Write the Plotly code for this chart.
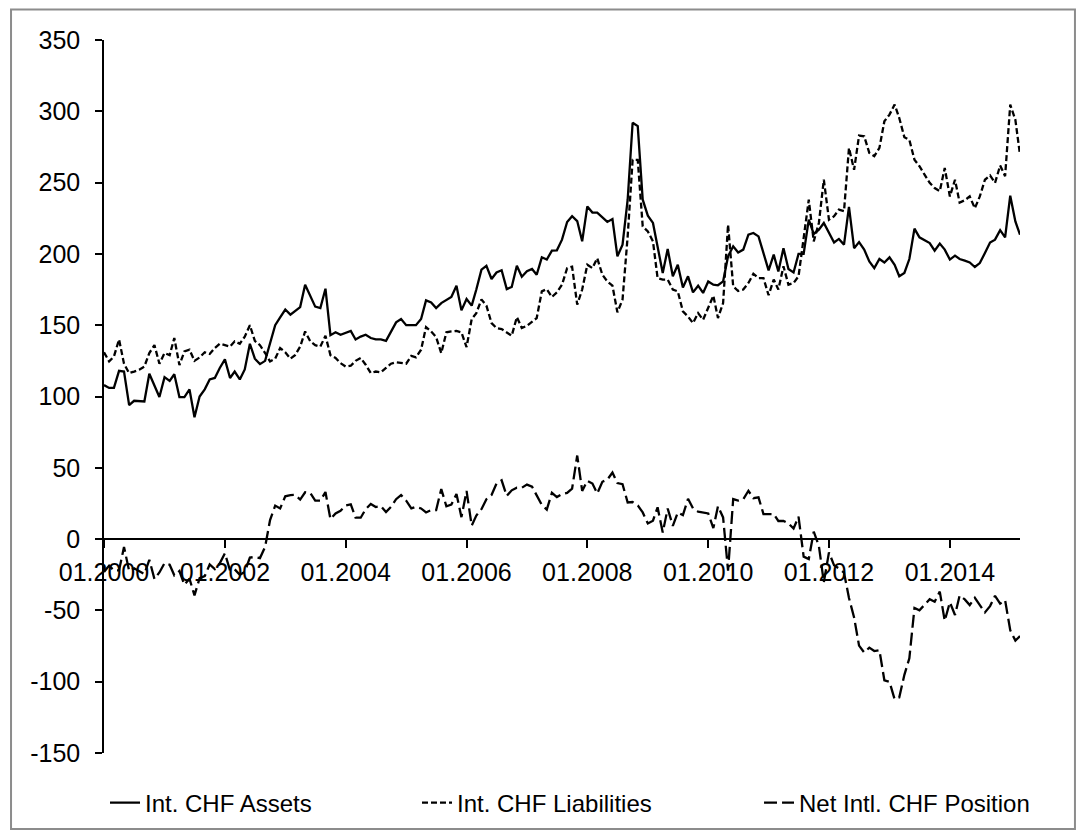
import pandas as pd
import plotly.graph_objects as go

start_month = "2000-01-01"
n_months = 183

assets = [
    108, 106, 106, 118, 117.5, 94, 97, 96.5, 96.5, 116, 108, 99.6,
    113.6, 111, 115.6, 99.6, 99.6, 105, 85.5, 100, 105, 112, 113, 120,
    126, 113, 117.5, 112, 119, 137, 126.5, 122.7, 125, 138, 150, 155.5,
    161, 157.4, 160, 162.7, 178.4, 171, 163, 162, 175.6, 143, 145, 143.3,
    144.5, 146, 140, 142, 143.3, 141, 140, 140, 139, 145.6, 152, 154.3,
    150, 150, 150, 154.3, 167.4, 166, 162, 165.5, 168, 169.8, 177.7, 160.4,
    168.4, 163.7, 175, 189, 191.7, 182.4, 187, 188.5, 175.3, 176.8, 191.7, 184,
    187.8, 189.4, 185.4, 197.6, 196, 202.3, 202.5, 210, 222.4, 226.4, 223, 208.8,
    233.3, 229, 229, 225.6, 222.4, 224.4, 198.3, 206.5, 238, 292, 289.6, 238,
    226.8, 221.7, 205.3, 186.6, 203.4, 184.3, 192.4, 176.5, 184.3, 173, 177.7, 172.6,
    180.7, 178.4, 178, 180.7, 198.3, 205.3, 201, 203, 213.5, 214.7, 212.3, 200.6,
    188.5, 199.5, 187.7, 204, 189.4, 187, 200, 200, 224, 214, 217, 221.7,
    214.7, 208, 210.5, 206.5, 233, 204, 208.3, 203, 194.7, 190, 196.4, 194,
    197.6, 192.4, 184.3, 186.6, 196.4, 217.7, 211.6, 209.5, 207.6, 202.3, 207.2, 203,
    196, 198.8, 196.4, 195.3, 194, 190.8, 193.6, 200.6, 208, 210, 216.7, 211.6,
    240.8, 222.8, 213.5,
]

liabilities = [
    131, 124.6, 128, 140, 123, 116.4, 117.5, 118.8, 121, 130.5, 136, 123,
    130.5, 129, 141, 122, 131.6, 132.8, 125, 127.4, 131, 129.8, 134, 137,
    136, 135, 138.7, 137, 142, 150, 139, 136, 130.5, 124.6, 126.5, 134,
    131, 126.5, 129, 135, 145.6, 138.7, 136, 135, 142.6, 129, 127, 123.4,
    121, 121.6, 125, 127, 122.3, 116.4, 117.5, 116.9, 120, 123, 124, 123.4,
    123, 128.5, 127.4, 132.8, 148.7, 145.6, 141.7, 130.4, 145, 145.6, 146, 145,
    134.6, 154.3, 158.5, 168, 163.7, 151.5, 148, 147.3, 145, 142.6, 155.7, 148,
    149.6, 152.6, 155, 173.7, 175.3, 169.8, 173, 178.4, 190, 191, 164.4, 175,
    192.4, 190, 197, 185.4, 180.7, 177.7, 159, 168, 212.3, 266, 266, 219.3,
    215.8, 208.8, 183, 182, 182, 175, 173.7, 159.7, 156, 151.5, 158.5, 153.8,
    162.7, 170.7, 155, 165.5, 220.5, 177.2, 174, 175, 179.6, 186, 183, 183,
    171, 182, 175, 191.3, 178.4, 179.6, 184.3, 212.3, 238, 208.8, 221.7, 252,
    224, 226.4, 231, 230, 274.3, 259, 283, 282.5, 270.8, 268.5, 274.3, 293,
    297.7, 304.7, 295.3, 281.8, 280, 266, 261.5, 255.6, 249.8, 246.2, 244, 260.3,
    240.3, 252, 236, 237.6, 240.3, 232, 240.3, 252, 255, 249.8, 262, 254.5,
    304.7, 294, 269.5,
]

net_position = [
    -23, -18.6, -22, -22, -5.5, -22.4, -20.5, -22.3, -24.5, -14.5, -28, -23.4,
    -16.9, -18, -25.4, -22.4, -32, -27.8, -39.5, -27.4, -26, -17.8, -21, -17,
    -10, -22, -21.2, -25, -23, -13, -12.5, -13.3, -5.5, 13.4, 23.5, 21.5,
    30, 30.9, 31, 27.7, 32.8, 32.3, 27, 27, 33, 14, 18, 19.9,
    23.5, 24.4, 15, 15, 21, 24.6, 22.5, 23.1, 19, 22.6, 28, 30.9,
    27, 21.5, 22.6, 21.5, 18.7, 20.4, 20.3, 35.1, 23, 24.2, 31.7, 15.4,
    33.8, 9.4, 16.5, 21, 28, 30.9, 39, 41.2, 30.3, 34.2, 36, 36,
    38.2, 36.8, 30.4, 23.9, 20.7, 32.5, 29.5, 31.6, 32.4, 35.4, 58.6, 33.8,
    40.9, 39, 32, 40.2, 41.7, 46.7, 39.3, 38.5, 25.7, 26, 23.6, 18.7,
    11, 12.9, 22.3, 4.6, 21.4, 9.3, 18.7, 16.8, 28.3, 21.5, 19.2, 18.8,
    18, 7.7, 23, 15.2, -22.2, 28.1, 27, 28, 33.9, 28.7, 29.3, 17.6,
    17.5, 17.5, 12.7, 12.7, 11, 7.4, 15.7, -12.3, -14, 5.2, -4.7, -30.3,
    -9.3, -18.4, -20.5, -23.5, -41.3, -55, -74.7, -79.5, -76.1, -78.5, -77.9, -99,
    -100.1, -112.3, -111, -95.2, -83.6, -48.3, -49.9, -46.1, -42.2, -43.9, -36.8, -57.3,
    -44.3, -53.2, -39.6, -42.3, -46.3, -41.2, -46.7, -51.4, -47, -39.8, -45.3, -42.9,
    -63.9, -71.2, -68,
]

tick_dates = ["2000-01-01", "2002-01-01", "2004-01-01", "2006-01-01",
              "2008-01-01", "2010-01-01", "2012-01-01", "2014-01-01"]
tick_labels = ["01.2000", "01.2002", "01.2004", "01.2006",
               "01.2008", "01.2010", "01.2012", "01.2014"]
y_ticks = [-150, -100, -50, 0, 50, 100, 150, 200, 250, 300, 350]
y_tick_labels = ["-150", "-100", "-50", "0", "50", "100", "150", "200", "250", "300", "350"]

series_names = ["Int. CHF Assets", "Int. CHF Liabilities", "Net Intl. CHF Position"]

dates = pd.date_range(start_month, periods=n_months, freq="MS")

FONT = "Liberation Sans, Arial, sans-serif"

fig = go.Figure()
fig.add_trace(go.Scatter(x=dates, y=assets, mode="lines", name=series_names[0],
                         legend="legend",
                         line=dict(color="black", width=2.3, dash="solid")))
fig.add_trace(go.Scatter(x=dates, y=liabilities, mode="lines", name=series_names[1],
                         legend="legend2",
                         line=dict(color="black", width=2.3, dash="6px,3px")))
fig.add_trace(go.Scatter(x=dates, y=net_position, mode="lines", name=series_names[2],
                         legend="legend3",
                         line=dict(color="black", width=2.3, dash="13px,5px")))

ymin, ymax = -150, 350
zero_pos = (0 - ymin) / (ymax - ymin)

leg_common = dict(orientation="h", xanchor="left", yanchor="middle", y=-0.0702,
                  font=dict(family=FONT, size=24, color="black"),
                  bgcolor="rgba(0,0,0,0)")

fig.update_layout(
    width=1085, height=839,
    margin=dict(l=104, r=65, t=40, b=86, autoexpand=False),
    paper_bgcolor="white", plot_bgcolor="white",
    font=dict(family=FONT, color="black", size=25),
    showlegend=True,
    legend=dict(x=0.0011, **leg_common),
    legend2=dict(x=0.3417, **leg_common),
    legend3=dict(x=0.7151, **leg_common),
    xaxis=dict(type="date", range=["2000-01-01", "2015-03-01"],
               tickvals=tick_dates, ticktext=tick_labels,
               ticks="outside", ticklen=8, tickwidth=1.5, tickcolor="black",
               showline=True, linecolor="black", linewidth=1.5,
               showgrid=False, zeroline=False,
               anchor="free", position=zero_pos, layer="below traces",
               tickfont=dict(size=25, family=FONT, color="black"),
               ticklabelstandoff=3),
    yaxis=dict(range=[ymin, ymax], tickvals=y_ticks, ticktext=y_tick_labels,
               ticks="outside", ticklen=7, tickwidth=1.5, tickcolor="black",
               showline=True, linecolor="black", linewidth=1.5,
               showgrid=False, zeroline=False,
               tickfont=dict(size=25, family=FONT, color="black"),
               ticklabelstandoff=10),
)

# outer chart-area border
fig.add_shape(type="rect", xref="paper", yref="paper",
              x0=-0.1015, x1=1.06, y0=-0.1067, y1=1.0428,
              line=dict(color="#8c8c8c", width=2), fillcolor="rgba(0,0,0,0)",
              layer="below")

fig.write_html("out.html", config={"displayModeBar": False},
               post_script="document.body.style.margin='0px';document.body.style.overflow='hidden';")
